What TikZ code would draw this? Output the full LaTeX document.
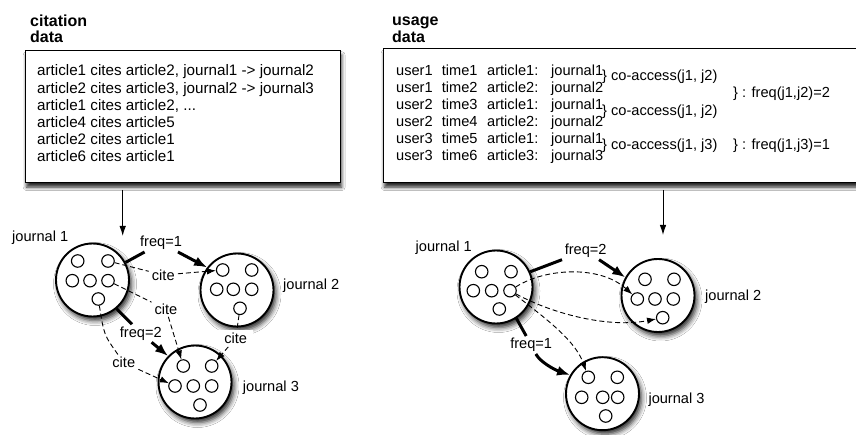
\documentclass[tikz,border=0pt]{standalone}
\usepackage{fontspec}
\setmainfont{Liberation Sans}
\usetikzlibrary{arrows.meta,shadows.blur}

\begin{document}
\begin{tikzpicture}[x=1pt,y=-1pt,
  every node/.style={inner sep=0pt},
  boxtext/.style={font=\fontsize{15.2}{17}\selectfont, anchor=base west},
  usetext/.style={font=\fontsize{14.6}{17}\selectfont, anchor=base west},
  title/.style={font=\bfseries\fontsize{16}{17}\selectfont, anchor=base west},
  jname/.style={font=\fontsize{14.6}{17}\selectfont, anchor=west},
  flabel/.style={font=\fontsize{14.6}{17}\selectfont, fill=white, inner xsep=3pt, inner ysep=2pt},
  clabel/.style={font=\fontsize{14.6}{17}\selectfont, fill=white, inner xsep=3pt, inner ysep=2pt},
  panel/.style={draw, line width=1.3pt, fill=white,
    blur shadow={shadow xshift=1pt, shadow yshift=-4.5pt, shadow blur radius=3.5pt, shadow opacity=85}},
  journal/.style={circle, draw, line width=1.9pt, fill=white, minimum size=73pt,
    blur shadow={shadow xshift=2.5pt, shadow yshift=-4pt, shadow blur radius=5pt, shadow opacity=85}},
  art/.style={circle, draw, line width=1.1pt, fill=white, minimum size=12.5pt},
  freqline/.style={line width=3pt},
  freqarrow/.style={freqline, -{Latex[length=13pt,width=10pt]}},
  citeline/.style={line width=0.9pt, dash pattern=on 5pt off 3pt},
  citearrow/.style={citeline, -{Latex[length=9pt,width=6.5pt]}},
  feed/.style={line width=1pt, -{Latex[length=10pt,width=6.5pt]}},
]
\useasboundingbox[fill=white] (0,0) rectangle (856,435);

% ---------- citation data ----------
\node[title] (ctitle1) at (30,26.5) {citation};
\node[title] (ctitle2) at (30,43) {data};
\node[panel, anchor=north west, minimum width=315pt, minimum height=132pt] (cbox) at (25,50) {};
\node[boxtext] (cl1) at (37,76.0)  {article1 cites article2, journal1 -> journal2};
\node[boxtext] (cl2) at (37,93.2)  {article2 cites article3, journal2 -> journal3};
\node[boxtext] (cl3) at (37,110.4) {article1 cites article2, ...};
\node[boxtext] (cl4) at (37,127.6) {article4 cites article5};
\node[boxtext] (cl5) at (37,144.8) {article2 cites article1};
\node[boxtext] (cl6) at (37,162.0) {article6 cites article1};

% ---------- usage data ----------
\node[title] (utitle1) at (392,25.5) {usage};
\node[title] (utitle2) at (392,42.5) {data};
\node[panel, anchor=north west, minimum width=490pt, minimum height=134pt] (ubox) at (383,48) {};
\foreach \u/\t/\a/\j [count=\i] in {user1/time1/article1:/journal1,
                                    user1/time2/article2:/journal2,
                                    user2/time3/article1:/journal1,
                                    user2/time4/article2:/journal2,
                                    user3/time5/article1:/journal1,
                                    user3/time6/article3:/journal3}{
  \pgfmathsetmacro\yb{75.5+17.1*(\i-1)}
  \node[usetext] (uu\i) at (396,\yb)   {\u};
  \node[usetext] (ut\i) at (441.7,\yb) {\t};
  \node[usetext] (ua\i) at (487,\yb)   {\a};
  \node[usetext] (uj\i) at (551,\yb)   {\j};
}
\node[usetext] (co1) at (602,81)    {\} co-access(j1, j2)};
\node[usetext] (co2) at (602,115.5) {\} co-access(j1, j2)};
\node[usetext] (co3) at (602,150)   {\} co-access(j1, j3)};
\node[usetext] (fq1) at (733,97.5)  {\} : freq(j1,j2)=2};
\node[usetext] (fq3) at (733,150)   {\} : freq(j1,j3)=1};

% feeds from the data boxes
\coordinate (cfeedA) at (122.7,190);
\coordinate (cfeedB) at (122.7,236);
\coordinate (ufeedA) at (663,190);
\coordinate (ufeedB) at (663,235);
\draw[feed] (cfeedA) -- (cfeedB);
\draw[feed] (ufeedA) -- (ufeedB);

% ---------- citation graph ----------
\node[journal] (L1) at (92.5,280) {};
\node[journal] (L2) at (237,290) {};
\node[journal] (L3) at (195,382) {};
\node[jname] (L1n) at (12,238)    {journal 1};
\node[jname] (L2n) at (283,286)   {journal 2};
\node[jname] (L3n) at (242.7,388) {journal 3};

\node[art] (A11) at (77.7,261) {};  \node[art] (A12) at (108,261) {};
\node[art] (A21) at (72.3,280.7) {}; \node[art] (A22) at (90,280.7) {}; \node[art] (A23) at (108,280.7) {};
\node[art] (A31) at (98.3,299) {};

\node[art] (B11) at (222.7,270) {};  \node[art] (B12) at (251.7,270) {};
\node[art] (B21) at (216.7,289.3) {}; \node[art] (B22) at (233.3,289.3) {}; \node[art] (B23) at (251.7,289.3) {};
\node[art] (B31) at (240,308.3) {};

\node[art] (C11) at (183.3,366) {};  \node[art] (C12) at (211.7,366) {};
\node[art] (C21) at (175,386) {};   \node[art] (C22) at (193.3,386) {}; \node[art] (C23) at (211.7,386) {};
\node[art] (C31) at (200,405) {};

\node[flabel] (F1) at (161,243)    {freq=1};
\node[flabel] (F2) at (140.8,333.3) {freq=2};
\node[clabel] (K1) at (163.3,275)  {cite};
\node[clabel] (K2) at (166,309.3)  {cite};
\node[clabel] (K3) at (123.8,362.7) {cite};
\node[clabel, inner xsep=6pt, inner ysep=3pt] (K4) at (235.7,338.3) {cite};

\draw[freqline] (L1.28) -- (F1);
\draw[freqarrow] (F1) -- (L2.143);
\draw[freqline] (L1.-50) -- (F2);
\draw[freqarrow] (F2) -- (L3.136);

\draw[citeline] (A12) -- (K1);
\draw[citearrow] (K1) -- (B11);
\draw[citeline] (A23) -- (K2);
\draw[citearrow] (K2) .. controls (174,335) .. (C11);
\draw[citeline] (A31) .. controls (104,335) .. (K3);
\draw[citearrow] (K3) -- (C21);
\draw[citeline] (B31) -- (K4);
\draw[citearrow] (K4) -- (C12);

% ---------- usage graph ----------
\node[journal] (R1) at (496,287) {};
\node[journal] (R2) at (658,295.5) {};
\node[journal] (R3) at (602.5,393.7) {};
\node[jname] (R1n) at (415.5,248)   {journal 1};
\node[jname] (R2n) at (705,296.7)   {journal 2};
\node[jname] (R3n) at (648.3,399.3) {journal 3};

\node[art] (RA11) at (481.7,271.7) {}; \node[art] (RA12) at (511,271.7) {};
\node[art] (RA21) at (473.3,290.7) {}; \node[art] (RA22) at (491.7,290.7) {}; \node[art] (RA23) at (510,290.7) {};
\node[art] (RA31) at (499.3,309) {};

\node[art] (RB11) at (645,279.3) {}; \node[art] (RB12) at (674,279.3) {};
\node[art] (RB21) at (637.3,299) {}; \node[art] (RB22) at (655,299) {}; \node[art] (RB23) at (673.3,299) {};
\node[art] (RB31) at (662.7,317.7) {};

\node[art] (RC11) at (588.3,377.3) {}; \node[art] (RC12) at (617.3,377.3) {};
\node[art] (RC21) at (581.7,397.3) {}; \node[art] (RC22) at (602.7,397.3) {}; \node[art] (RC23) at (617.7,397.3) {};
\node[art] (RC31) at (605.7,416) {};

\node[flabel] (F3) at (585.7,250.7) {freq=2};
\node[flabel] (F4) at (531.2,345)   {freq=1};

\draw[freqline] (R1.24) -- (F3);
\draw[freqarrow] (F3) -- (R2.151);
\draw[freqline] (R1.-57) -- (F4);
\draw[freqarrow] (F4) .. controls (540,362) and (555,370) .. (R3.150);

\draw[citearrow] (RA23) .. controls (545,268) and (600,265) .. (RB21);
\draw[citearrow] (RA23) .. controls (555,315) and (610,328) .. (RB31);
\draw[citearrow] (RA23) .. controls (545,318) and (575,340) .. (RC11);

\end{tikzpicture}
\end{document}
